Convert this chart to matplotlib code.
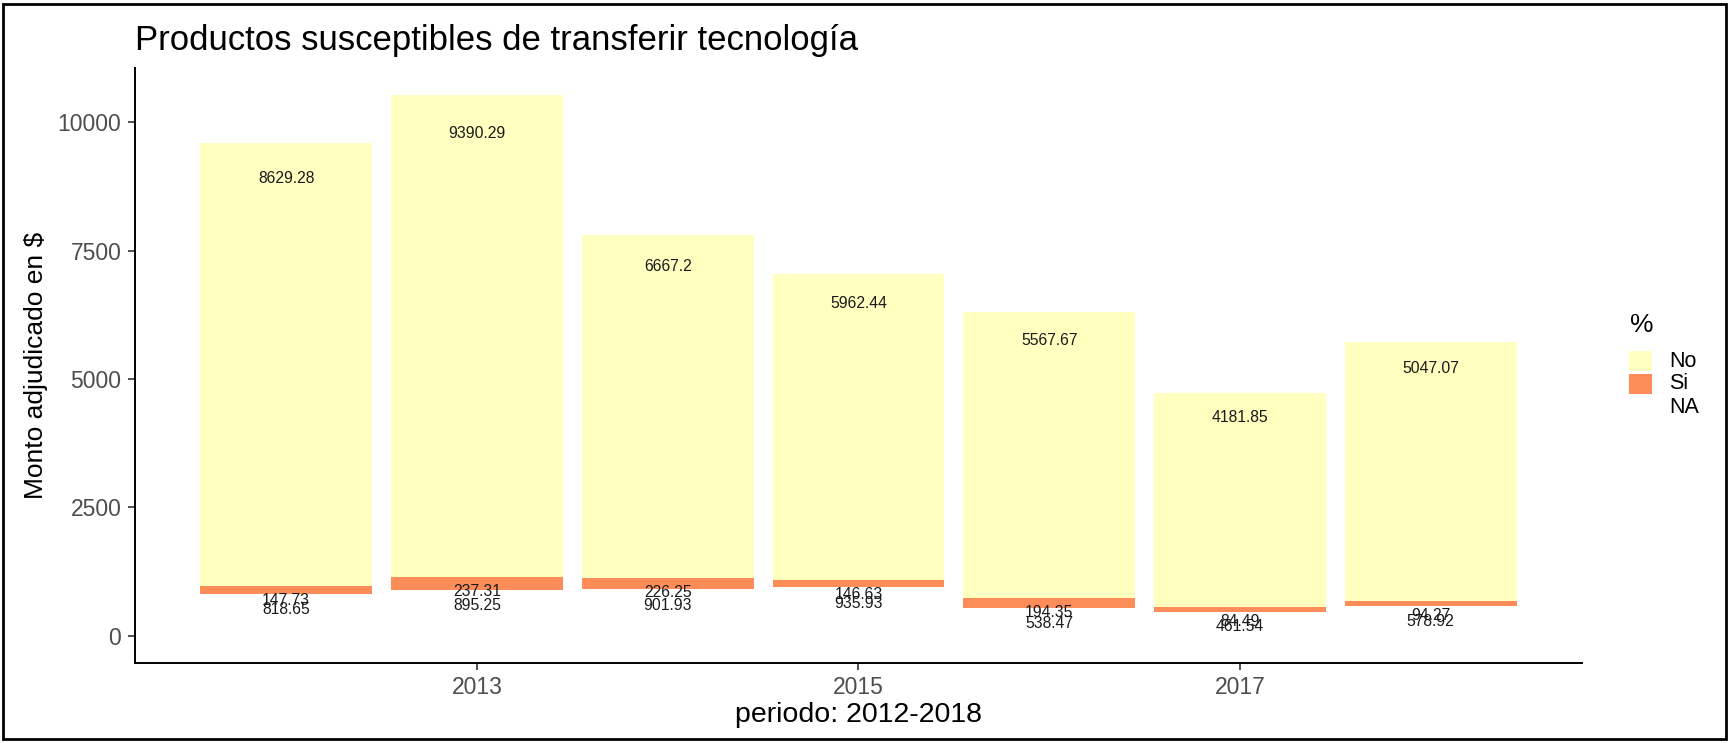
import numpy as np
import matplotlib.pyplot as plt
from matplotlib.patches import Rectangle

plt.rcParams["font.family"] = ["Liberation Sans", "DejaVu Sans"]

# data
years = [2012, 2013, 2014, 2015, 2016, 2017, 2018]
monto_na = [818.65, 895.25, 901.93, 935.93, 538.47, 461.54, 578.92]
monto_si = [147.73, 237.31, 226.25, 146.63, 194.35, 84.49, 94.27]
monto_no = [8629.28, 9390.29, 6667.2, 5962.44, 5567.67, 4181.85, 5047.07]
x_ticks = [2013, 2015, 2017]
y_ticks = [0, 2500, 5000, 7500, 10000]
legend_labels = ["No", "Si", "NA"]

color_no = "#FFFFBF"
color_si = "#FC8D59"
legend_colors = [color_no, color_si, None]  # NA has no fill

fig = plt.figure(figsize=(17.29, 7.43), dpi=100)
ax = fig.add_axes([0.0778, 0.1083, 0.8374, 0.7997])

x = np.array(years)
na = np.array(monto_na)
si = np.array(monto_si)
no = np.array(monto_no)
width = 0.9

# stacked bars, NA part left empty
ax.bar(x, na, width, color="none")
ax.bar(x, si, width, bottom=na, color=color_si)
ax.bar(x, no, width, bottom=na + si, color=color_no)

# labels: stacked position at 95% of each segment, moved one line down
for bottoms, vals, raw in [(0, na, monto_na), (na, si, monto_si), (na + si, no, monto_no)]:
    ys = bottoms + 0.95 * vals
    for xi, yi, txt in zip(x, ys, raw):
        ax.annotate(str(txt), (xi, yi), xytext=(0, -10), textcoords="offset points",
                    ha="center", va="center", fontsize=11.3, color="#1A1A1A")

# ggplot-like expansion of the scales
total = na + si + no
lo, hi = x.min() - width / 2, x.max() + width / 2
pad = 0.05 * (hi - lo)
ax.set_xlim(lo - pad, hi + pad)
ax.set_ylim(-0.05 * total.max(), 1.05 * total.max())

ax.set_xticks(x_ticks)
ax.set_yticks(y_ticks)
ax.tick_params(axis="both", direction="out", length=5, width=1.2, color="#333333",
               labelsize=16.5, labelcolor="#4D4D4D", pad=4.5)
for side in ["top", "right"]:
    ax.spines[side].set_visible(False)
for side in ["left", "bottom"]:
    ax.spines[side].set_linewidth(1.4)
    ax.spines[side].set_color("black")

# axis titles, centred on the panel
pos = ax.get_position()
fig.text(pos.x0 + pos.width / 2, 0.028, "periodo: 2012-2018", fontsize=20.5,
         ha="center", va="baseline")
fig.text(0.0251, pos.y0 + pos.height / 2, "Monto adjudicado en $", fontsize=19,
         rotation=90, rotation_mode="anchor", ha="center", va="baseline")

fig.text(0.0778, 0.9327, "Productos susceptibles de transferir tecnología",
         fontsize=25, ha="left", va="baseline")

# legend, drawn by hand like the ggplot guide
fig.text(0.9427, 0.5626, "%", fontsize=19, ha="left", va="center")
key_w, key_h = 0.01348, 0.02786
row_y = [0.5141, 0.4832, 0.4509]
for label, col, yc in zip(legend_labels, legend_colors, row_y):
    if col is not None:
        fig.patches.append(Rectangle((0.9422, yc - key_h / 2), key_w, key_h,
                                     transform=fig.transFigure, fc=col, ec="none"))
    fig.text(0.9653, yc, label, fontsize=15.5, ha="left", va="center")

# outer frame of the picture
fig.patches.append(Rectangle((0.002, 0.005), 0.996, 0.99, transform=fig.transFigure,
                             fill=False, lw=2, ec="black"))

fig.savefig("out.png", dpi=100)
